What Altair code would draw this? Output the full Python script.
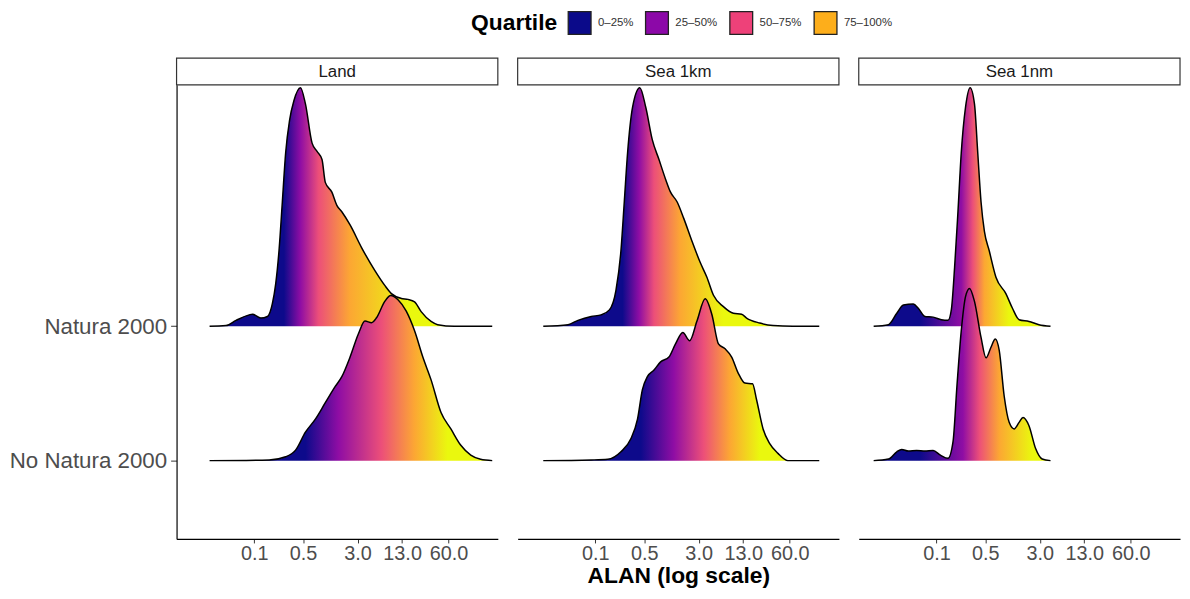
import altair as alt
import pandas as pd

FONT = "Liberation Sans, Arial, sans-serif"

PANELS = ["Land", "Sea 1km", "Sea 1nm"]
GROUPS = ["Natura 2000", "No Natura 2000"]
GROUP_BASE = {"Natura 2000": 2, "No Natura 2000": 1}

QUARTILES = ["0–25%", "25–50%", "50–75%", "75–100%"]
QUARTILE_COLORS = ["#0B0A8A", "#8C08A8", "#EE4179", "#FDAE1B"]
GRADIENT_COLORS = ["#0D0A8B", "#8F0DA4", "#EC4F79", "#FCA733", "#EAF80E"]

X_TICKS = [0.1, 0.5, 3.0, 13.0, 60.0]

# ---- ridge outlines: log10(ALAN) and ridge height ----
land_n2k_log = [-1.638, -1.402, -1.260, -1.071, -1.024, -0.906, -0.811, -0.740, -0.693, -0.646,
                -0.598, -0.551, -0.495, -0.433, -0.339, -0.268, -0.173, -0.102, -0.031, 0.016,
                0.110, 0.181, 0.252, 0.370, 0.536, 0.725, 0.866, 0.961, 1.103, 1.197,
                1.292, 1.386, 1.528, 1.622, 1.858, 2.402]
land_n2k_h = [0, 0.005, 0.044, 0.085, 0.090, 0.061, 0.073, 0.170, 0.316, 0.560,
              0.925, 1.290, 1.533, 1.679, 1.776, 1.655, 1.363, 1.302, 1.241, 1.071,
              0.998, 0.900, 0.852, 0.754, 0.584, 0.414, 0.304, 0.243, 0.207, 0.200,
              0.182, 0.109, 0.036, 0.012, 0, 0]

land_non_log = [-1.638, -0.787, -0.551, -0.409, -0.268, -0.126, 0.016, 0.158, 0.252, 0.370,
                0.488, 0.583, 0.677, 0.748, 0.866, 0.951, 1.055, 1.173, 1.292, 1.410,
                1.528, 1.670, 1.811, 1.953, 2.095, 2.236, 2.402]
land_non_h = [0, 0.005, 0.029, 0.078, 0.212, 0.309, 0.431, 0.552, 0.625, 0.771,
              0.942, 1.039, 1.027, 1.063, 1.185, 1.229, 1.197, 1.112, 0.966, 0.771,
              0.601, 0.358, 0.236, 0.114, 0.041, 0.010, 0]

sea1km_n2k_log = [-1.744, -1.390, -1.248, -1.059, -0.917, -0.799, -0.705, -0.634, -0.586, -0.539,
                  -0.468, -0.364, -0.279, -0.185, -0.090, 0.004, 0.075, 0.170, 0.264, 0.382,
                  0.500, 0.595, 0.689, 0.831, 0.973, 1.091, 1.162, 1.351, 1.540, 1.823, 2.201]
sea1km_n2k_h = [0, 0.012, 0.044, 0.073, 0.085, 0.122, 0.268, 0.560, 0.925, 1.290,
                1.630, 1.776, 1.630, 1.387, 1.241, 1.095, 0.998, 0.925, 0.803, 0.633,
                0.474, 0.365, 0.231, 0.146, 0.097, 0.090, 0.061, 0.024, 0.005, 0, 0]

sea1km_non_log = [-1.744, -1.059, -0.823, -0.634, -0.492, -0.397, -0.327, -0.256, -0.161, -0.067,
                  0.052, 0.146, 0.250, 0.349, 0.453, 0.571, 0.666, 0.760, 0.855, 0.949,
                  1.044, 1.138, 1.247, 1.304, 1.398, 1.493, 1.611, 1.752, 2.201]
sea1km_non_h = [0, 0.005, 0.010, 0.066, 0.163, 0.309, 0.528, 0.625, 0.674, 0.735,
                0.771, 0.869, 0.954, 0.893, 1.039, 1.204, 1.088, 0.869, 0.832, 0.771,
                0.650, 0.577, 0.572, 0.455, 0.236, 0.127, 0.054, 0, 0]

sea1nm_n2k_log = [-1.897, -1.685, -1.566, -1.472, -1.330, -1.259, -1.165, -1.047, -0.929, -0.834,
                  -0.787, -0.740, -0.692, -0.645, -0.584, -0.518, -0.456, -0.409, -0.362, -0.314,
                  -0.244, -0.149, -0.007, 0.087, 0.182, 0.323, 0.465, 0.631]
sea1nm_n2k_h = [0, 0.012, 0.097, 0.158, 0.165, 0.134, 0.073, 0.068, 0.049, 0.044,
                0.122, 0.438, 0.852, 1.290, 1.630, 1.776, 1.655, 1.290, 0.925, 0.706,
                0.560, 0.365, 0.243, 0.134, 0.049, 0.036, 0.012, 0]

sea1nm_non_log = [-1.897, -1.685, -1.566, -1.496, -1.401, -1.283, -1.165, -1.047, -0.943, -0.834,
                  -0.763, -0.707, -0.645, -0.584, -0.527, -0.456, -0.362, -0.291, -0.220, -0.158,
                  -0.102, -0.031, 0.040, 0.111, 0.182, 0.238, 0.323, 0.418, 0.512, 0.631]
sea1nm_non_h = [0, 0.012, 0.066, 0.083, 0.071, 0.075, 0.071, 0.075, 0.041, 0.017,
                0.139, 0.552, 0.966, 1.221, 1.282, 1.185, 0.917, 0.766, 0.844, 0.905,
                0.820, 0.479, 0.285, 0.236, 0.285, 0.321, 0.260, 0.090, 0.012, 0]

# log10(ALAN) where the fill reaches navy-end, purple, pink, orange, yellow
land_n2k_breaks = [-0.575, -0.339, -0.079, 0.370, 1.197]
land_non_breaks = [-0.268, 0.205, 0.819, 1.292, 1.764]
sea1km_n2k_breaks = [-0.610, -0.374, -0.161, 0.217, 0.831]
sea1km_non_breaks = [-0.350, 0.122, 0.547, 0.925, 1.351]
sea1nm_n2k_breaks = [-1.236, -0.645, -0.480, -0.314, 0.040]
sea1nm_non_breaks = [-1.236, -0.621, -0.385, -0.102, 0.371]

CURVES = {
    ("Land", "Natura 2000"): (land_n2k_log, land_n2k_h, land_n2k_breaks),
    ("Land", "No Natura 2000"): (land_non_log, land_non_h, land_non_breaks),
    ("Sea 1km", "Natura 2000"): (sea1km_n2k_log, sea1km_n2k_h, sea1km_n2k_breaks),
    ("Sea 1km", "No Natura 2000"): (sea1km_non_log, sea1km_non_h, sea1km_non_breaks),
    ("Sea 1nm", "Natura 2000"): (sea1nm_n2k_log, sea1nm_n2k_h, sea1nm_n2k_breaks),
    ("Sea 1nm", "No Natura 2000"): (sea1nm_non_log, sea1nm_non_h, sea1nm_non_breaks),
}

W, H, STRIP_H = 324, 458, 27
X_DOMAIN = [10 ** -2.110, 10 ** 2.482]
Y_DOMAIN = [0.417, 3.797]


def gradient(logs, breaks):
    lo, hi = logs[0], logs[-1]
    offs = [round((b - lo) / (hi - lo), 4) for b in breaks]
    stops = [{"offset": 0, "color": GRADIENT_COLORS[0]},
             {"offset": offs[0], "color": GRADIENT_COLORS[0]}]
    for o, c in zip(offs[1:], GRADIENT_COLORS[1:]):
        stops.append({"offset": o, "color": c})
    stops.append({"offset": 1, "color": GRADIENT_COLORS[-1]})
    return {"gradient": "linear", "x1": 0, "x2": 1, "y1": 0, "y2": 0, "stops": stops}


def curve_df(logs, hs, base):
    return pd.DataFrame({
        "alan": [10 ** v for v in logs],
        "top": [base + h for h in hs],
        "base": [base] * len(logs),
    })


def make_panel(idx, name):
    x_axis = alt.Axis(values=X_TICKS, format=".1f", labelFontSize=20, labelColor="#4D4D4D",
                      labelFont=FONT, tickColor="#333333", tickSize=4, domainColor="black",
                      domainWidth=1.2, labelPadding=1, labelOverlap=False, labelFlush=False,
                      grid=False,
                      title="ALAN (log scale)" if idx == 1 else "",
                      titleFontSize=23, titleFontWeight="bold", titleColor="black",
                      titleFont=FONT, titlePadding=1)
    if idx == 0:
        y_axis = alt.Axis(values=[1, 2],
                          labelExpr="datum.value == 2 ? 'Natura 2000' : 'No Natura 2000'",
                          labelFontSize=22.5, labelColor="#4D4D4D", labelFont=FONT,
                          tickSize=6, tickColor="#333333", domainColor="black",
                          domainWidth=1.2, labelPadding=4, labelOverlap=False,
                          grid=False, title="")
    else:
        y_axis = None
    x_enc = alt.X("alan:Q", scale=alt.Scale(type="log", domain=X_DOMAIN, nice=False), axis=x_axis)
    y_enc = alt.Y("top:Q", scale=alt.Scale(domain=Y_DOMAIN, nice=False, zero=False), axis=y_axis)

    layers = []
    for g in GROUPS:
        logs, hs, breaks = CURVES[(name, g)]
        df = curve_df(logs, hs, GROUP_BASE[g])
        area = alt.Chart(df).mark_area(fill=gradient(logs, breaks), interpolate="monotone",
                                       opacity=1).encode(x=x_enc, y=y_enc, y2="base:Q")
        line = alt.Chart(df).mark_line(color="black", strokeWidth=1.5,
                                       interpolate="monotone").encode(x=x_enc, y=y_enc)
        layers += [area, line]

    strip_df = pd.DataFrame({"panel": [name]})
    strip_rect = alt.Chart(strip_df).mark_rect(fill="white", stroke="#333333",
                                               strokeWidth=1.2).encode(
        x=alt.value(0), x2=alt.value(W), y=alt.value(-STRIP_H), y2=alt.value(0))
    strip_text = alt.Chart(strip_df).mark_text(fontSize=17, color="#1A1A1A", font=FONT,
                                               baseline="middle", align="center").encode(
        x=alt.value(W / 2), y=alt.value(-STRIP_H / 2 + 0.5), text="panel:N")
    layers += [strip_rect, strip_text]

    if idx == 0:
        leg_df = pd.DataFrame({"q": QUARTILES})
        dummy = alt.Chart(leg_df).mark_square(opacity=0).encode(
            x=alt.value(0), y=alt.value(0),
            fill=alt.Fill("q:N", scale=alt.Scale(domain=QUARTILES, range=QUARTILE_COLORS),
                          legend=alt.Legend(title="Quartile", orient="none", direction="horizontal",
                                            legendX=297, legendY=-75, titleOrient="left",
                                            titleFontSize=23, titleFontWeight="bold",
                                            titleColor="black", titleFont=FONT, titlePadding=10,
                                            labelFontSize=11.5, labelColor="#333333",
                                            labelFont=FONT, labelOffset=6,
                                            symbolType="square", symbolSize=529,
                                            symbolOpacity=1, symbolStrokeColor="#222222",
                                            symbolStrokeWidth=1.3, columnPadding=9)))
        layers.append(dummy)

    return alt.layer(*layers).properties(width=W, height=H)


panels = [make_panel(i, p) for i, p in enumerate(PANELS)]
chart = alt.hconcat(*panels, spacing=16).properties(
    padding={"left": 0, "top": 0, "right": 0, "bottom": 0}
).configure_view(stroke="transparent")

chart.save("out.html", embed_options={"renderer": "svg", "actions": False})
